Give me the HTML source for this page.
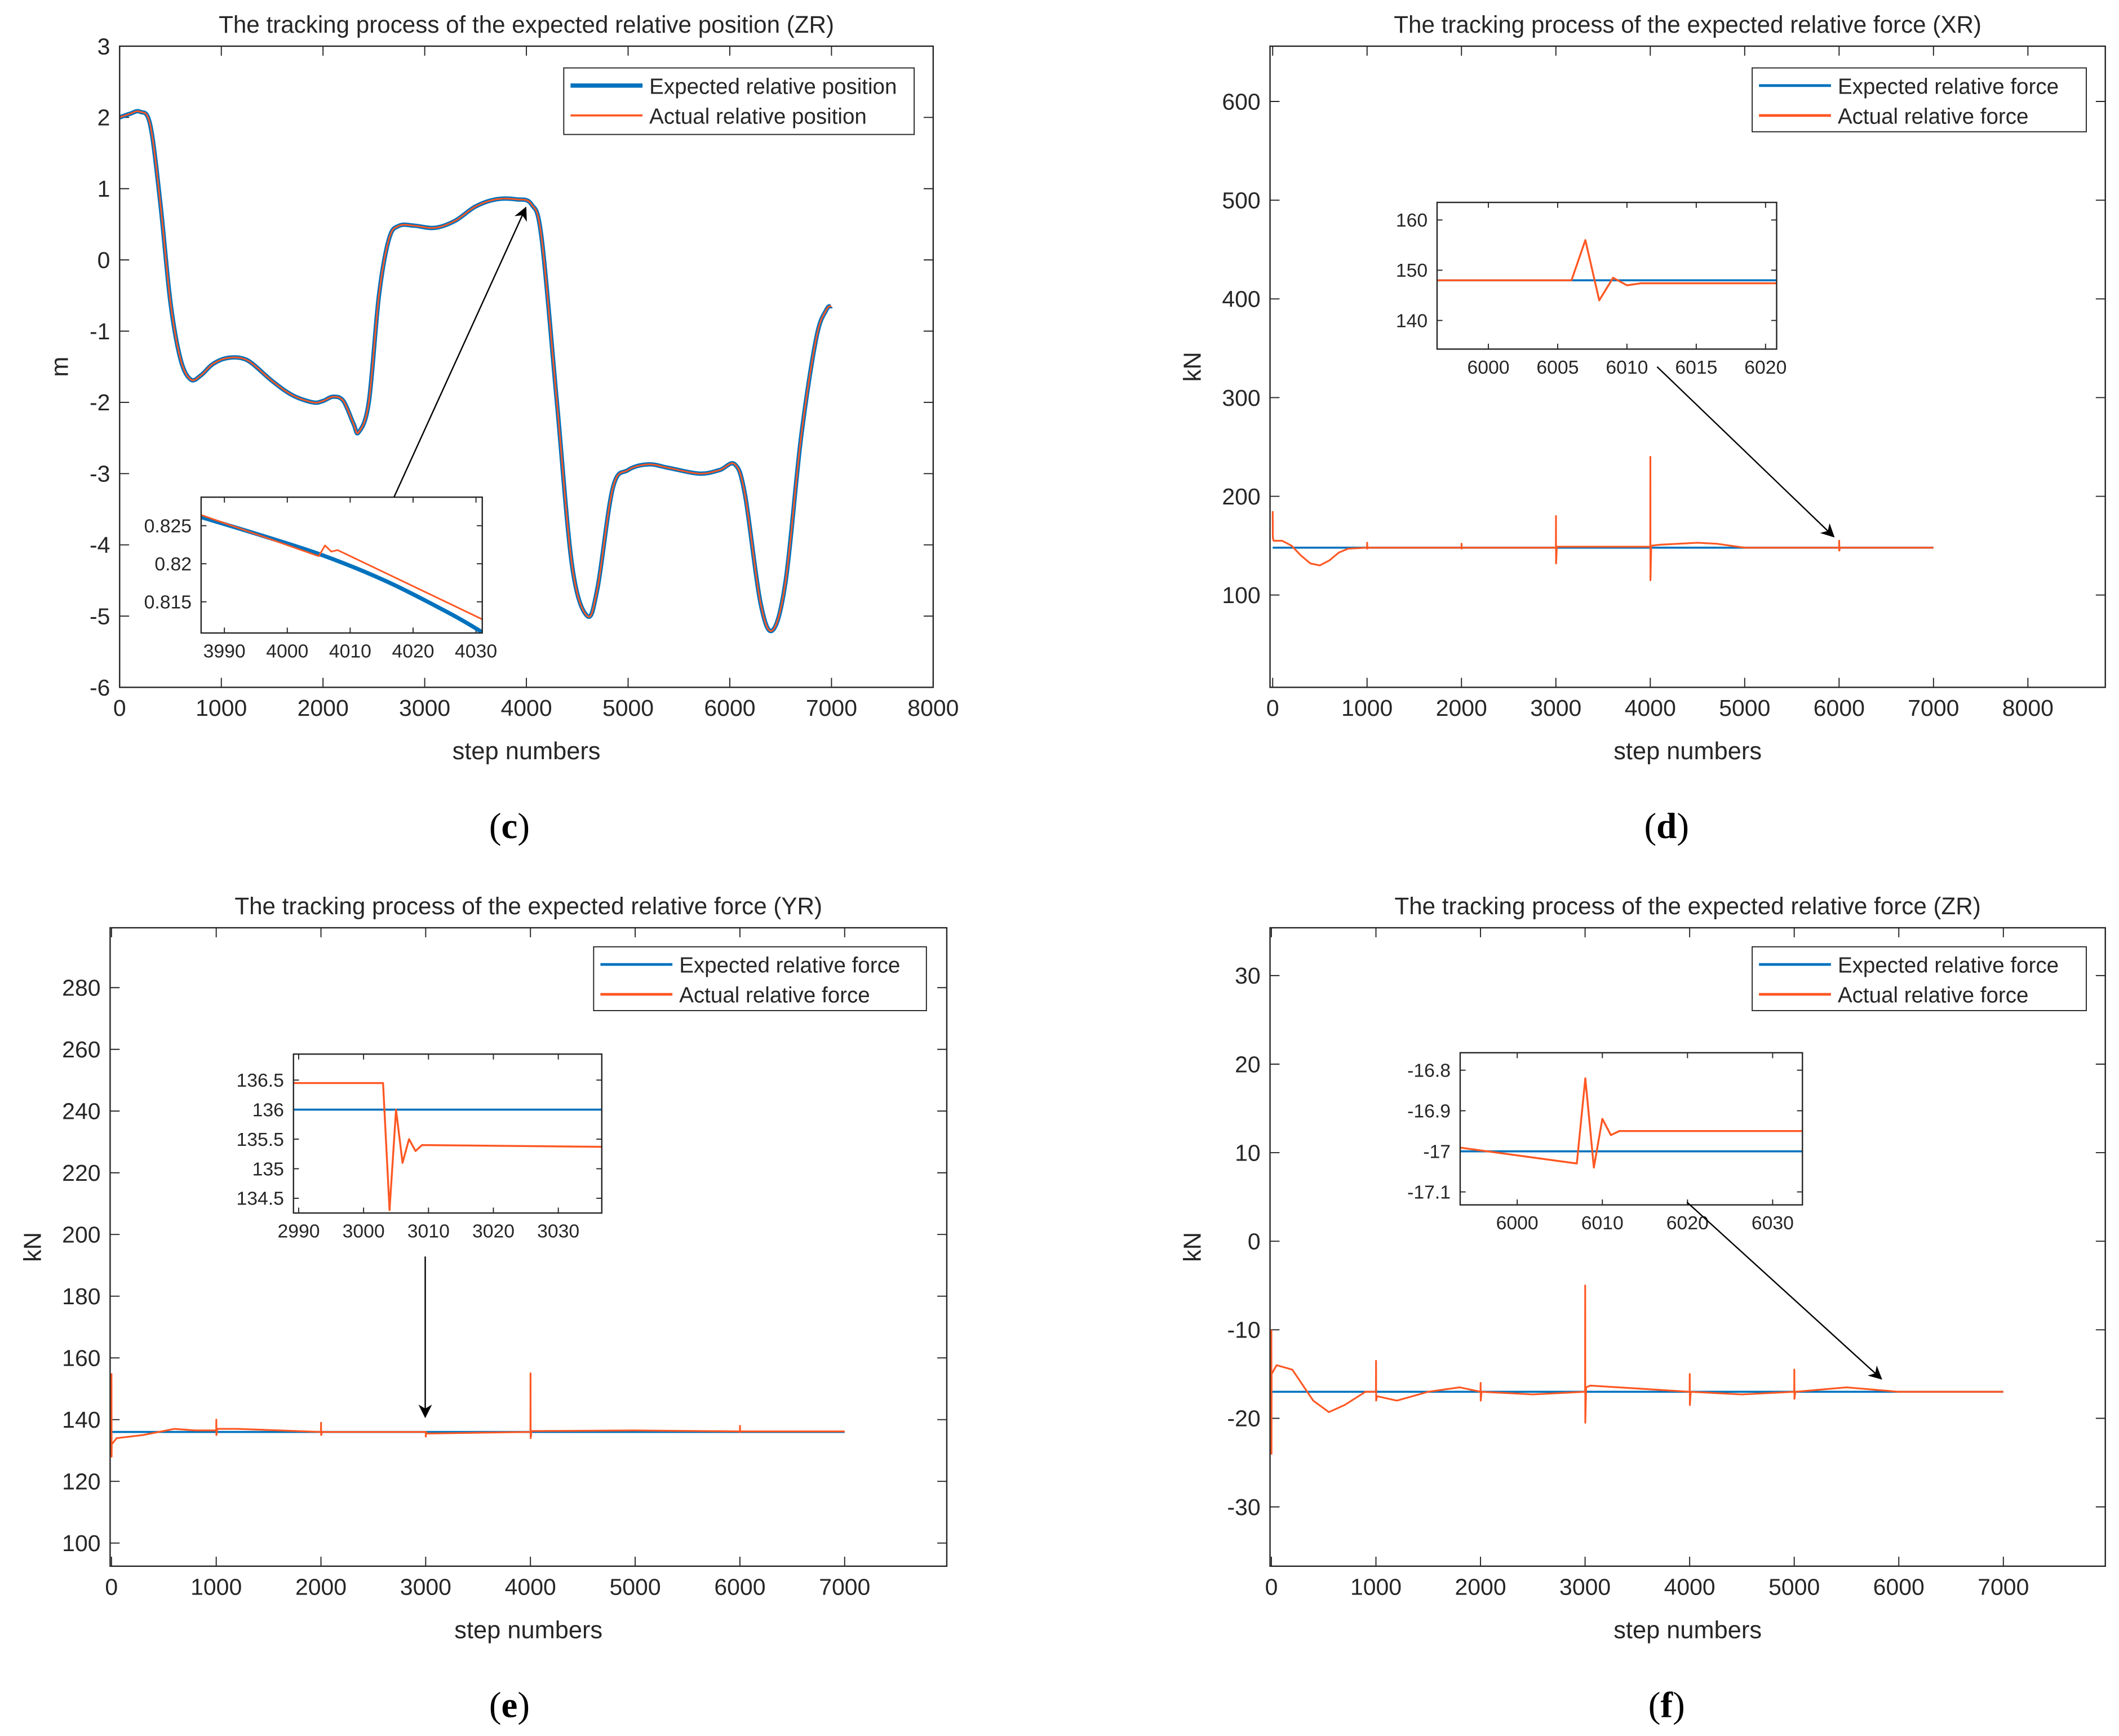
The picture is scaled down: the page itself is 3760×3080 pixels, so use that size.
<!DOCTYPE html>
<html><head><meta charset="utf-8">
<style>
html,body{margin:0;padding:0;background:#fff;}
svg{display:block;}
text{font-family:"Liberation Sans",sans-serif;fill:#262626;}
</style></head>
<body>
<svg id="fig" xmlns="http://www.w3.org/2000/svg" width="3760" height="3080" viewBox="0 0 1560 1278">
<defs>
<marker id="ah" markerWidth="10" markerHeight="10" refX="9" refY="5" orient="auto" markerUnits="userSpaceOnUse">
<path d="M0,0 L10,5 L0,10 L3,5 Z" fill="#000"/>
</marker>
</defs>
</svg>
<script>
// ---------- data ----------
const cSteps = [0,100,200,300,400,500,600,700,800,900,1000,1100,1200,1300,1500,1700,1900,2000,2100,2200,2300,2350,2450,2550,2650,2750,2900,3100,3300,3500,3700,3900,4050,4150,4300,4450,4600,4700,4850,5000,5200,5400,5700,5900,6050,6150,6300,6420,6550,6700,6850,6950,7000];
const cPos = [2.0,2.05,2.08,1.9,0.8,-0.6,-1.4,-1.68,-1.62,-1.48,-1.4,-1.37,-1.38,-1.45,-1.7,-1.9,-2.0,-1.98,-1.92,-1.98,-2.3,-2.42,-2.0,-0.5,0.3,0.48,0.48,0.45,0.55,0.75,0.85,0.85,0.78,0.3,-2.0,-4.3,-5.0,-4.6,-3.2,-2.95,-2.87,-2.92,-3.0,-2.95,-2.87,-3.3,-4.8,-5.2,-4.5,-2.5,-1.1,-0.7,-0.65];
const cInsExpX = [3986,3996,4006,4016,4026,4031];
const cInsExpY = [0.8262,0.8237,0.8210,0.8176,0.8134,0.8110];
const cInsActX = [3986,4005,4006,4007,4008,4031];
const cInsActY = [0.8265,0.8210,0.8224,0.8216,0.8218,0.8127];

const dExpX = [0,7000]; const dExpY = [148,148];
const dActX = [0,2,10,100,200,300,400,500,600,700,800,1000,1001,1002,1010,2000,2001,2002,2010,3000,3001,3002,3010,4000,4001,4002,4010,4100,4500,4700,5000,6000,6001,6002,6010,7000];
const dActY = [185,158,155,155,150,140,132,130,135,143,147,148,153,147,148,148,152,147,148,148,180,132,149,149,240,115,150,151,153,152,148,148,155,145,148,148];
const dInsX = [5996,6006,6007,6008,6009,6010,6011,6021];
const dInsY = [148,148,156,144,148.5,147,147.4,147.4];

const eExpX = [0,7000]; const eExpY = [136,136];
const eActX = [0,1,2,50,300,600,800,1000,1001,1002,1010,1200,2000,2001,2002,2010,3000,3001,3002,3010,4000,4001,4002,4010,5000,6000,6001,6002,6010,7000];
const eActY = [155,128,132,134,135,137,136.5,136.5,140,135,137,137,136,139,135,136,136,134.5,136,135.5,136,155,134,136.3,136.5,136.2,138,136,136.2,136.2];
const eInsX = [2989,3003,3004,3005,3006,3007,3008,3009,3037];
const eInsY = [136.45,136.45,134.3,136.0,135.1,135.5,135.3,135.4,135.37];

const fExpX = [0,7000]; const fExpY = [-17,-17];
const fActX = [0,1,2,50,200,400,550,700,900,1000,1001,1002,1010,1200,1500,1800,2000,2001,2002,2010,2500,3000,3001,3002,3010,3050,4000,4001,4002,4010,4500,5000,5001,5002,5010,5500,6000,7000];
const fActY = [-10,-24,-15,-14,-14.5,-18,-19.3,-18.5,-17,-17,-13.5,-18,-17.5,-18,-17,-16.5,-17,-16,-18,-17,-17.3,-17,-5,-20.5,-16.5,-16.3,-17,-15,-18.5,-17,-17.3,-17,-14.5,-17.8,-17,-16.5,-17,-17];
const fInsX = [5993,6007,6008,6009,6010,6011,6012,6034];
const fInsY = [-16.99,-17.03,-16.82,-17.04,-16.92,-16.96,-16.95,-16.95];

const cXTicks=[0,1000,2000,3000,4000,5000,6000,7000,8000], cYTicks=[3,2,1,0,-1,-2,-3,-4,-5,-6];
const dXTicks=[0,1000,2000,3000,4000,5000,6000,7000,8000], dYTicks=[600,500,400,300,200,100];
const eXTicks=[0,1000,2000,3000,4000,5000,6000,7000], eYTicks=[280,260,240,220,200,180,160,140,120,100];
const fXTicks=[0,1000,2000,3000,4000,5000,6000,7000], fYTicks=[30,20,10,0,-10,-20,-30];
const cInsXT=[3990,4000,4010,4020,4030], cInsYT=[0.825,0.82,0.815];
const dInsXT=[6000,6005,6010,6015,6020], dInsYT=[160,150,140];
const eInsXT=[2990,3000,3010,3020,3030], eInsYT=[136.5,136,135.5,135,134.5];
const fInsXT=[6000,6010,6020,6030], fInsYT=[-16.8,-16.9,-17,-17.1];

// ---------- drawing ----------
const NS='http://www.w3.org/2000/svg';
const svg=document.getElementById('fig');
const BLUE='#0072BD', ORANGE='#FF5722';
function el(tag,attrs,parent){const e=document.createElementNS(NS,tag);for(const k in attrs)e.setAttribute(k,attrs[k]);(parent||svg).appendChild(e);return e;}
function txt(s,x,y,size,anchor,parent){const t=el('text',{x:x,y:y,'font-size':size,'text-anchor':anchor||'middle'},parent);t.textContent=s;return t;}
function scale(d0,d1,p0,p1){return v=>p0+(v-d0)/(d1-d0)*(p1-p0);}
function pathD(xs,ys,sx,sy,smooth){
  const P=xs.map((x,i)=>[sx(x),sy(ys[i])]);
  if(!smooth) return 'M'+P.map(p=>p[0].toFixed(2)+','+p[1].toFixed(2)).join(' L');
  let d='M'+P[0][0]+','+P[0][1];
  for(let i=0;i<P.length-1;i++){
    const p0=P[i-1]||P[i],p1=P[i],p2=P[i+1],p3=P[i+2]||p2;
    const c1=[p1[0]+(p2[0]-p0[0])/6,p1[1]+(p2[1]-p0[1])/6];
    const c2=[p2[0]-(p3[0]-p1[0])/6,p2[1]-(p3[1]-p1[1])/6];
    d+=` C${c1[0].toFixed(2)},${c1[1].toFixed(2)} ${c2[0].toFixed(2)},${c2[1].toFixed(2)} ${p2[0].toFixed(2)},${p2[1].toFixed(2)}`;
  }
  return d;
}
function axes(o){
  const g=el('g',{});
  
  
  const sx=scale(o.xd[0],o.xd[1],o.x0,o.x1), sy=scale(o.yd[0],o.yd[1],o.y1,o.y0);
  el('rect',{x:o.x0,y:o.y0,width:o.x1-o.x0,height:o.y1-o.y0,fill:'#fff',stroke:'none'},g);
  const clip='clip'+o.id;
  const cp=el('clipPath',{id:clip},g);el('rect',{x:o.x0,y:o.y0,width:o.x1-o.x0,height:o.y1-o.y0},cp);
  const fs=o.fs||16, tl=o.tl||5;
  o.xt.forEach(v=>{const x=sx(v);
    el('line',{x1:x,x2:x,y1:o.y1,y2:o.y1-tl,stroke:'#262626','stroke-width':0.8},g);
    el('line',{x1:x,x2:x,y1:o.y0,y2:o.y0+tl,stroke:'#262626','stroke-width':0.8},g);
    const t=txt(String(v),x,o.y1+fs+4,fs,'middle',g);
    
    });
  o.yt.forEach(v=>{const y=sy(v);
    el('line',{x1:o.x0,x2:o.x0+tl,y1:y,y2:y,stroke:'#262626','stroke-width':0.8},g);
    el('line',{x1:o.x1,x2:o.x1-tl,y1:y,y2:y,stroke:'#262626','stroke-width':0.8},g);
    const t=txt(String(v),o.x0-7,y+fs*0.35,fs,'end',g);
    
    });
  const lg=el('g',{'clip-path':`url(#${clip})`},g);
  o.series.forEach(s=>{const p=el('path',{d:pathD(s.x,s.y,sx,sy,s.smooth),fill:'none',stroke:s.color,'stroke-width':s.w,'stroke-linejoin':'round'},lg);
    
    });
  el('rect',{x:o.x0,y:o.y0,width:o.x1-o.x0,height:o.y1-o.y0,fill:'none',stroke:'#262626','stroke-width':1},g);
  return g;
}
function panel(p){
  axes({id:p.id,name:p.id+'-axes',x0:p.x0,x1:p.x1,y0:p.y0,y1:p.y1,xd:p.xd,yd:p.yd,xt:p.xt,yt:p.yt,fs:17,tl:7,series:p.series});
  const t=txt(p.title,(p.x0+p.x1)/2,p.y0-10,17.5,'middle');
  
  
  const xl=txt('step numbers',(p.x0+p.x1)/2,p.y1+53,18,'middle');
  
  
  const yl=txt(p.ylabel,0,0,18,'middle');
  yl.setAttribute('transform',`translate(${p.ylx},${(p.y0+p.y1)/2}) rotate(-90)`);
  
  
  const L=p.leg;
  const lgd=el('g',{});
  
  
  el('rect',{x:L.x,y:L.y,width:L.w,height:L.h,fill:'#fff',stroke:'#262626','stroke-width':0.8},lgd);
  [[p.legTxt[0],BLUE,p.legW[0]],[p.legTxt[1],ORANGE,p.legW[1]]].forEach((e,i)=>{
    const yy=L.y+13+i*22;
    el('line',{x1:L.x+5,x2:L.x+58,y1:yy,y2:yy,stroke:e[1],'stroke-width':e[2]},lgd);
    const tt=txt(e[0],L.x+63,yy+6,16,'start',lgd);
    
    
  });
  const I=p.ins;
  axes({id:p.id+'i',name:p.id+'-inset',x0:I.x0,x1:I.x1,y0:I.y0,y1:I.y1,xd:I.xd,yd:I.yd,xt:I.xt,yt:I.yt,fs:14,tl:4,series:I.series});
  const a=el('line',{x1:p.arrow[0],y1:p.arrow[1],x2:p.arrow[2],y2:p.arrow[3],stroke:'#000','stroke-width':1,'marker-end':'url(#ah)'});
  
  
  const c=el('text',{x:p.cap[0],y:p.cap[1],'font-size':27,'text-anchor':'middle',style:'font-family:"Liberation Serif",serif;fill:#000'});
  c.innerHTML='(<tspan font-weight="bold">'+p.capL+'</tspan>)';
  
  
}
panel({id:'c',x0:88,x1:687,y0:34,y1:506,xd:[0,8000],yd:[-6,3],xt:cXTicks,yt:cYTicks,
  title:'The tracking process of the expected relative position (ZR)',ylabel:'m',ylx:50,
  series:[{x:cSteps,y:cPos,color:BLUE,w:3.2,smooth:true,name:'expected-position-line'},{x:cSteps,y:cPos,color:ORANGE,w:1.2,smooth:true,name:'actual-position-line'}],
  leg:{x:415,y:50,w:258,h:49},legTxt:['Expected relative position','Actual relative position'],legW:[3.2,1.5],
  ins:{x0:148,x1:355,y0:366,y1:466,xd:[3986.3,4031],yd:[0.8109,0.82875],xt:cInsXT,yt:cInsYT,
    series:[{x:cInsExpX,y:cInsExpY,color:BLUE,w:3,smooth:true,name:'inset-expected-line'},{x:cInsActX,y:cInsActY,color:ORANGE,w:1.2,name:'inset-actual-line'}]},
  arrow:[290,366,387,153],cap:[375,617],capL:'c'});
panel({id:'d',x0:935,x1:1550,y0:34,y1:506,xd:[-28,8820],yd:[6.5,656],xt:dXTicks,yt:dYTicks,
  title:'The tracking process of the expected relative force (XR)',ylabel:'kN',ylx:884,
  series:[{x:dExpX,y:dExpY,color:BLUE,w:1.5,name:'expected-force-line'},{x:dActX,y:dActY,color:ORANGE,w:1.3,name:'actual-force-line'}],
  leg:{x:1290,y:50,w:246,h:47},legTxt:['Expected relative force','Actual relative force'],legW:[2,2],
  ins:{x0:1058,x1:1308,y0:149,y1:257,xd:[5996.3,6020.8],yd:[134.3,163.5],xt:dInsXT,yt:dInsYT,
    series:[{x:[5996,6021],y:[148,148],color:BLUE,w:1.5,name:'inset-expected-line'},{x:dInsX,y:dInsY,color:ORANGE,w:1.4,name:'inset-actual-line'}]},
  arrow:[1220,270,1350,395],cap:[1227,617],capL:'d'});
panel({id:'e',x0:81,x1:697,y0:683,y1:1153,xd:[-13,7975],yd:[92.5,299.4],xt:eXTicks,yt:eYTicks,
  title:'The tracking process of the expected relative force (YR)',ylabel:'kN',ylx:30,
  series:[{x:eExpX,y:eExpY,color:BLUE,w:1.5,name:'expected-force-line'},{x:eActX,y:eActY,color:ORANGE,w:1.3,name:'actual-force-line'}],
  leg:{x:437,y:697,w:245,h:47},legTxt:['Expected relative force','Actual relative force'],legW:[2,2],
  ins:{x0:216,x1:443,y0:776,y1:893,xd:[2989.2,3036.7],yd:[134.25,136.94],xt:eInsXT,yt:eInsYT,
    series:[{x:[2989,3037],y:[136,136],color:BLUE,w:1.5,name:'inset-expected-line'},{x:eInsX,y:eInsY,color:ORANGE,w:1.4,name:'inset-actual-line'}]},
  arrow:[313,925,313,1043],cap:[375,1264],capL:'e'});
panel({id:'f',x0:935,x1:1550,y0:683,y1:1153,xd:[-13,7975],yd:[-36.7,35.4],xt:fXTicks,yt:fYTicks,
  title:'The tracking process of the expected relative force (ZR)',ylabel:'kN',ylx:884,
  series:[{x:fExpX,y:fExpY,color:BLUE,w:1.5,name:'expected-force-line'},{x:fActX,y:fActY,color:ORANGE,w:1.3,name:'actual-force-line'}],
  leg:{x:1290,y:697,w:246,h:47},legTxt:['Expected relative force','Actual relative force'],legW:[2,2],
  ins:{x0:1075,x1:1327,y0:775,y1:887,xd:[5993.3,6033.5],yd:[-17.132,-16.757],xt:fInsXT,yt:fInsYT,
    series:[{x:[5993,6034],y:[-17,-17],color:BLUE,w:1.5,name:'inset-expected-line'},{x:fInsX,y:fInsY,color:ORANGE,w:1.4,name:'inset-actual-line'}]},
  arrow:[1242,885,1385,1015],cap:[1227,1264],capL:'f'});
</script>
</body></html>
